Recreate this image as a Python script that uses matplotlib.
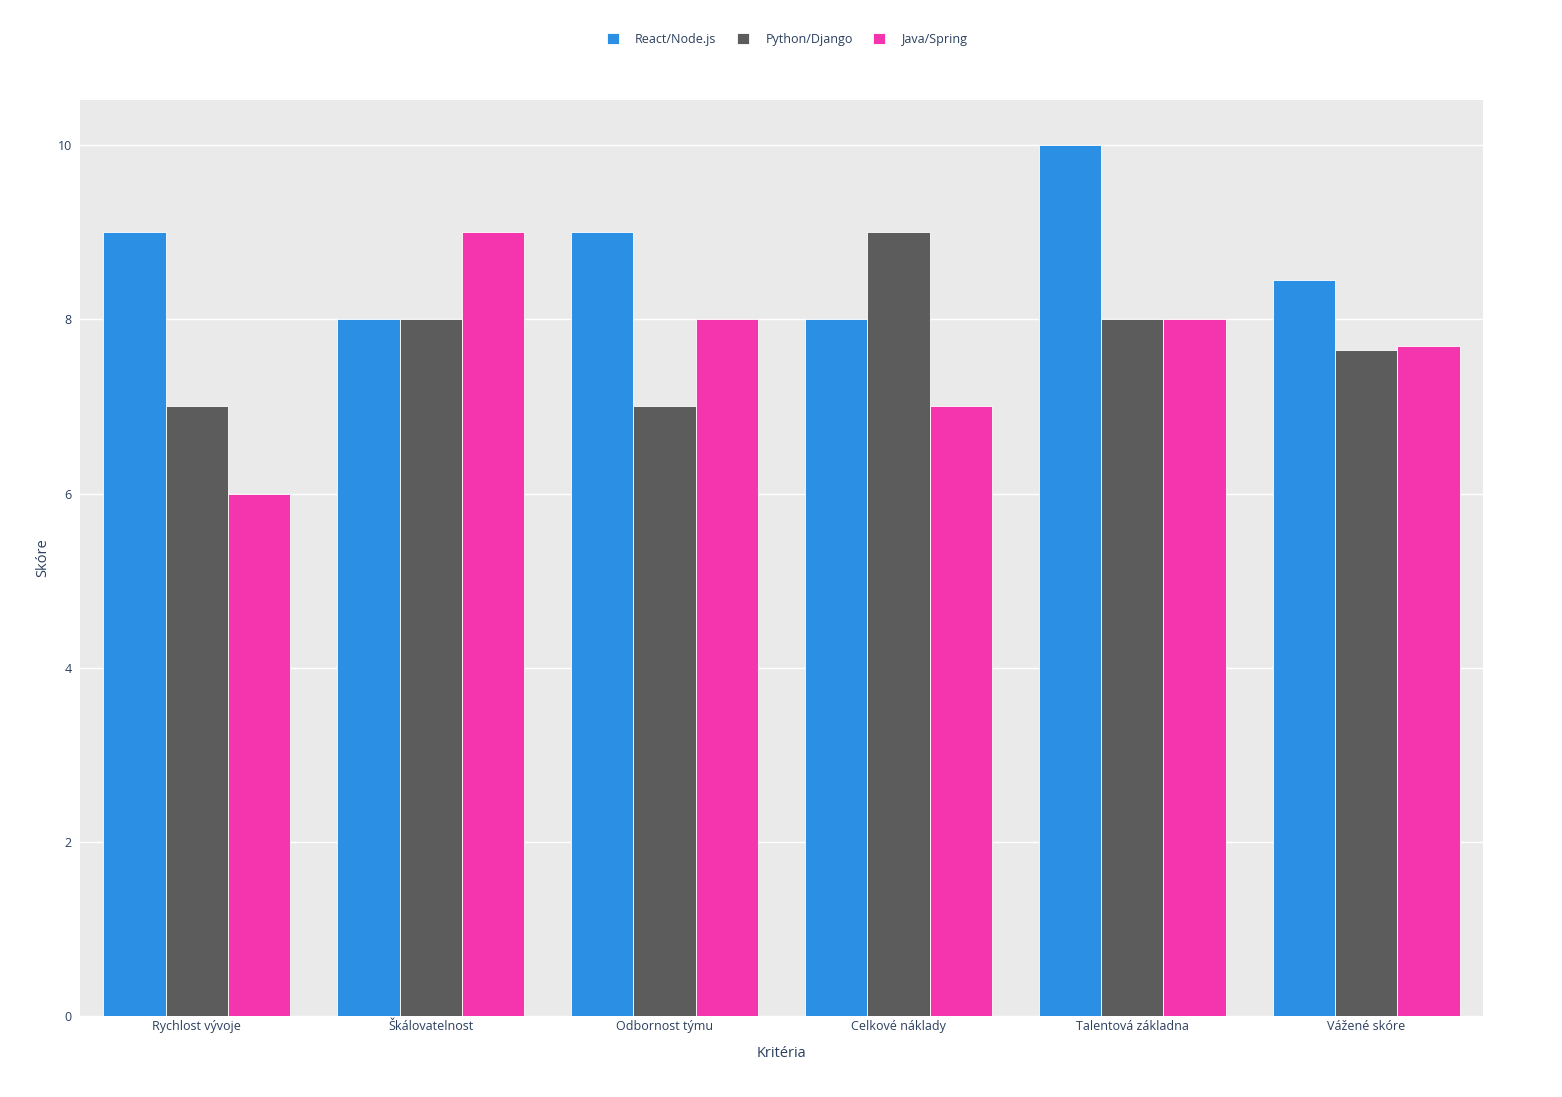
import numpy as np
import matplotlib.pyplot as plt
from matplotlib.patches import Patch

categories = ["Rychlost vývoje", "Škálovatelnost", "Odbornost týmu",
              "Celkové náklady", "Talentová základna", "Vážené skóre"]
series_names = ["React/Node.js", "Python/Django", "Java/Spring"]
react = [9, 8, 9, 8, 10, 8.45]
python = [7, 8, 7, 9, 8, 7.65]
java = [6, 9, 8, 7, 8, 7.7]
colors = ["#2b8fe3", "#5c5c5c", "#f535ad"]
yticks = [0, 2, 4, 6, 8, 10]

text_col = "#2a3f5f"
plt.rcParams['font.family'] = ['Open Sans', 'DejaVu Sans']

fig = plt.figure(figsize=(15.62, 10.97), dpi=100)
ax = fig.add_axes([80 / 1562, 1 - 1016 / 1097, (1483 - 80) / 1562, (1016 - 100) / 1097])
ax.set_facecolor("#eaeaea")

x = np.arange(len(categories))
w = 0.8 / 3
for i, vals in enumerate([react, python, java]):
    ax.bar(x + (i - 1) * w, vals, width=w, color=colors[i],
           edgecolor="white", linewidth=0.6, zorder=3, label=series_names[i])

ax.set_xlim(-0.5, len(categories) - 0.5)
ax.set_ylim(0, 10.52)
ax.set_yticks(yticks)
ax.set_yticklabels([str(t) for t in yticks])
ax.set_xticks(x)
ax.set_xticklabels(categories)
ax.grid(axis="y", color="white", linewidth=1, zorder=0)
ax.set_axisbelow(True)
for s in ax.spines.values():
    s.set_visible(False)
ax.tick_params(length=0, labelsize=9, labelcolor=text_col)
ax.tick_params(axis="x", pad=3)
ax.tick_params(axis="y", pad=6)
ax.set_xlabel("Kritéria", fontsize=10.5, color=text_col, labelpad=9)
ax.set_ylabel("Skóre", fontsize=10.5, color=text_col, labelpad=5)

handles = [Patch(facecolor=c, edgecolor="white", linewidth=0.6) for c in colors]
fig.legend(handles, series_names, loc="center", bbox_to_anchor=(787 / 1562, 1 - 39.5 / 1097),
           ncol=3, frameon=False, fontsize=9, labelcolor=text_col,
           handlelength=1.0, handleheight=1.0, handletextpad=1.3, columnspacing=1.6)

fig.savefig("out.png", dpi=100, facecolor="white")
